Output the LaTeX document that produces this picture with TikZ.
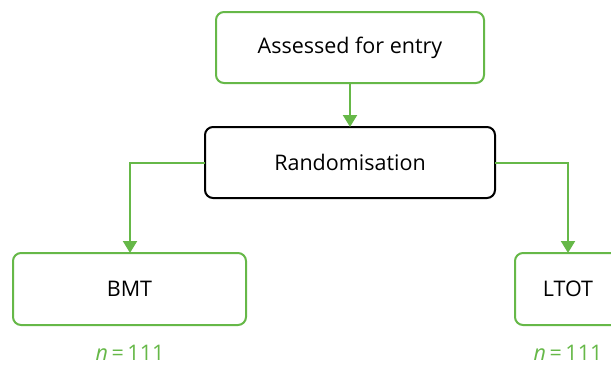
\documentclass[tikz,border=0pt]{standalone}
\usepackage{fontspec}
\setmainfont{Open Sans}
\usetikzlibrary{arrows.meta}
\definecolor{grn}{RGB}{102,184,72}
\begin{document}
\begin{tikzpicture}[x=1pt,y=-1pt,
  box/.style={draw=grn,line width=2pt,rounded corners=8pt,fill=white},
  blackbox/.style={draw=black,line width=2pt,rounded corners=8pt,fill=white},
  lbl/.style={font=\fontsize{21.5}{24}\selectfont},
  nlbl/.style={font=\fontsize{21.5}{24}\selectfont,text=grn,inner sep=0pt},
  conn/.style={draw=grn,line width=2pt,-{Triangle[width=14pt,length=12pt]}}]
\useasboundingbox (0,0) rectangle (611,367);
\clip (0,0) rectangle (611,367);
\draw[box] (216,12) rectangle (484,83);
\node[lbl] (assess) at (350,47.5) {Assessed for entry};
\coordinate (assessB) at (350,83);
\draw[blackbox] (205,127) rectangle (495,198);
\node[lbl] (rand) at (350,162.5) {Randomisation};
\coordinate (randT) at (350,127);
\coordinate (randL) at (205,163);
\coordinate (randR) at (495,163);
\draw[box] (13,253) rectangle (246,325);
\node[lbl] (bmt) at (129.5,289) {BMT};
\coordinate (bmtT) at (130,253);
\draw[box] (515,253) rectangle (621,325);
\node[lbl] (ltot) at (568,289) {LTOT};
\coordinate (ltotT) at (568,253);
\node[nlbl,anchor=base] (n1) at (130,360) {\textit{n}\,=\,111};
\node[nlbl,anchor=base] (n2) at (568,360) {\textit{n}\,=\,111};
\draw[conn] (assessB) -- (randT);
\draw[conn] (randL) -| (bmtT);
\draw[conn] (randR) -| (ltotT);
\end{tikzpicture}
\end{document}
